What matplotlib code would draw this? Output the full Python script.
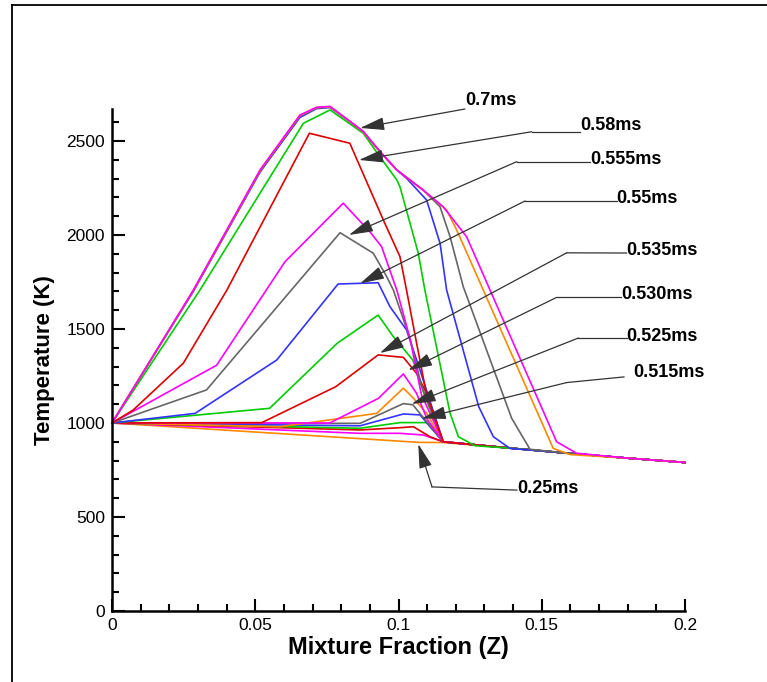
import matplotlib.pyplot as plt
from matplotlib.lines import Line2D
from matplotlib.ticker import MultipleLocator

plt.rcParams['font.family'] = ['Liberation Sans', 'DejaVu Sans']

# temperature vs mixture fraction, one trace per time, earliest first
z01 = [0, 0.107, 0.1156, 0.14, 0.16, 0.18, 0.2]
T01 = [1000, 897, 896, 865, 838, 813, 790]
z02 = [0, 0.0866, 0.1005, 0.1087, 0.1156, 0.14, 0.16, 0.18, 0.2]
T02 = [1000, 945, 945, 936, 900, 865, 838, 813, 790]
z03 = [0, 0.0866, 0.1005, 0.1052, 0.111, 0.1156, 0.14, 0.16, 0.18, 0.2]
T03 = [1000, 963, 975, 980, 927, 900, 865, 838, 813, 790]
z04 = [0, 0.0866, 0.1005, 0.1098, 0.1156, 0.14, 0.16, 0.18, 0.2]
T04 = [1000, 972, 1002, 1002, 900, 865, 838, 813, 790]
z05 = [0, 0.0866, 0.1017, 0.1075, 0.1156, 0.14, 0.16, 0.18, 0.2]
T05 = [1000, 985, 1048, 1043, 900, 865, 838, 813, 790]
z06 = [0, 0.0866, 0.1017, 0.105, 0.1156, 0.14, 0.16, 0.18, 0.2]
T06 = [1000, 998, 1103, 1097, 900, 865, 838, 813, 790]
z07 = [0, 0.0586, 0.0924, 0.1017, 0.1047, 0.1098, 0.1156, 0.14, 0.16, 0.18, 0.2]
T07 = [1000, 980, 1051, 1185, 1140, 1052, 900, 865, 838, 813, 790]
z08 = [0, 0.076, 0.093, 0.1017, 0.1063, 0.11, 0.1156, 0.14, 0.16, 0.18, 0.2]
T08 = [1000, 1000, 1131, 1261, 1158, 1020, 900, 865, 838, 813, 790]
z09 = [0, 0.0523, 0.0781, 0.0929, 0.1017, 0.1063, 0.1098, 0.1156, 0.14, 0.16, 0.18, 0.2]
T09 = [1000, 1002, 1193, 1362, 1349, 1264, 1158, 900, 865, 838, 813, 790]
z10 = [0, 0.055, 0.0786, 0.0929, 0.0982, 0.105, 0.109, 0.1156, 0.14, 0.16, 0.18, 0.2]
T10 = [1000, 1078, 1424, 1574, 1459, 1335, 1150, 900, 865, 838, 813, 790]
z11 = [0, 0.029, 0.0575, 0.0789, 0.0929, 0.097, 0.1028, 0.1075, 0.1156, 0.14, 0.16, 0.18, 0.2]
T11 = [1000, 1051, 1335, 1739, 1746, 1619, 1495, 1282, 900, 865, 838, 813, 790]
z12 = [0, 0.033, 0.0796, 0.0912, 0.0959, 0.0982, 0.104, 0.108, 0.1156, 0.14, 0.16, 0.18, 0.2]
T12 = [1000, 1176, 2012, 1903, 1778, 1707, 1450, 1200, 900, 865, 838, 813, 790]
z13 = [0, 0.0365, 0.0604, 0.0807, 0.09, 0.0941, 0.0994, 0.104, 0.108, 0.1156, 0.14, 0.16, 0.18, 0.2]
T13 = [1000, 1307, 1858, 2169, 2017, 1938, 1707, 1450, 1150, 900, 865, 838, 813, 790]
z14 = [0, 0.0074, 0.0249, 0.0401, 0.0689, 0.083, 0.0947, 0.1005, 0.1028, 0.106, 0.1098, 0.1156,
       0.14, 0.16, 0.18, 0.2]
T14 = [1000, 1069, 1318, 1707, 2541, 2488, 2080, 1885, 1707, 1450, 1150, 900,
       865, 838, 813, 790]
z15 = [0, 0.0307, 0.0668, 0.0761, 0.0877, 0.0935, 0.0994, 0.1005, 0.1069, 0.1092, 0.118, 0.1209,
       0.1267, 0.14, 0.16, 0.18, 0.2]
T15 = [1000, 1707, 2594, 2665, 2541, 2416, 2293, 2257, 1903, 1707, 1052, 927,
       879, 865, 838, 813, 790]
z16 = [0, 0.0284, 0.0517, 0.0656, 0.0714, 0.0761, 0.0831, 0.0877, 0.0935, 0.0994, 0.1029, 0.1098,
       0.1145, 0.1168, 0.128, 0.1331, 0.1389, 0.16, 0.18, 0.2]
T16 = [1000, 1700, 2335, 2625, 2672, 2678, 2603, 2549, 2443, 2346, 2300, 2186,
       1956, 1707, 1087, 927, 865, 838, 813, 790]
z17 = [0, 0.0284, 0.0517, 0.0656, 0.0714, 0.0761, 0.0831, 0.0877, 0.0935, 0.0994, 0.1086, 0.1145,
       0.118, 0.1226, 0.1395, 0.1459, 0.16, 0.18, 0.2]
T17 = [1000, 1703, 2340, 2632, 2675, 2680, 2603, 2549, 2443, 2346, 2239, 2150,
       1991, 1725, 1025, 860, 838, 813, 790]
z18 = [0, 0.0284, 0.0517, 0.0656, 0.0714, 0.0761, 0.0831, 0.0877, 0.0935, 0.0994, 0.1086, 0.1168,
       0.1203, 0.1296, 0.154, 0.1599, 0.18, 0.2]
T18 = [1000, 1705, 2344, 2636, 2678, 2682, 2603, 2549, 2443, 2346, 2239, 2133,
       2027, 1707, 865, 832, 813, 790]
z19 = [0, 0.0284, 0.0517, 0.0656, 0.0714, 0.0761, 0.0831, 0.0877, 0.0935, 0.0994, 0.1086, 0.1156,
       0.1238, 0.1552, 0.1622, 0.18, 0.2]
T19 = [1000, 1707, 2346, 2638, 2679, 2684, 2604, 2551, 2445, 2346, 2239, 2150,
       1990, 900, 839, 813, 790]

red, green, blue, magenta, gray, orange = '#dd0000', '#00cc00', '#3333ff', '#ff00ff', '#666666', '#ff8800'
traces = [(z01, T01, orange), (z02, T02, magenta), (z03, T03, red), (z04, T04, green),
          (z05, T05, blue), (z06, T06, gray), (z07, T07, orange), (z08, T08, magenta),
          (z09, T09, red), (z10, T10, green), (z11, T11, blue), (z12, T12, gray),
          (z13, T13, magenta), (z14, T14, red), (z15, T15, green), (z16, T16, blue),
          (z17, T17, gray), (z18, T18, orange), (z19, T19, magenta)]

# time labels: text, arrow tip, elbow, end of leader, text position (data coords)
labels = ['0.7ms', '0.58ms', '0.555ms', '0.55ms', '0.535ms', '0.530ms', '0.525ms', '0.515ms', '0.25ms']
tips = [(0.0866, 2569), (0.0862, 2399), (0.0827, 2000), (0.0866, 1742), (0.0935, 1372),
        (0.1034, 1281), (0.1046, 1101), (0.1081, 1024), (0.1069, 888)]
elbows = [(0.1232, 2670), (0.1465, 2549), (0.1413, 2390), (0.1442, 2181), (0.1587, 1905),
          (0.1552, 1668), (0.1628, 1452), (0.1587, 1215), (0.1117, 660)]
ends = [(0.1232, 2670), (0.1634, 2549), (0.1668, 2390), (0.1761, 2181), (0.1796, 1904),
        (0.1778, 1668), (0.1796, 1452), (0.1787, 1245), (0.1413, 643)]
text_pos = [(0.1232, 2713), (0.1634, 2580), (0.1668, 2399), (0.1761, 2194), (0.1796, 1920),
            (0.1778, 1681), (0.1796, 1458), (0.1820, 1266), (0.1413, 654)]

fig = plt.figure(figsize=(7.67, 6.82), dpi=100)
ax = fig.add_axes([112 / 767, 71 / 682, 573 / 767, 502 / 682])

for z, T, c in traces:
    ax.plot(z, T, color=c, lw=1.2, clip_on=False)

for lab, tip, elb, end, tp in zip(labels, tips, elbows, ends, text_pos):
    ax.annotate('', xy=tip, xytext=elb,
                arrowprops=dict(arrowstyle='-|>,head_length=1.5,head_width=0.4',
                                color='#333333', lw=0.9, shrinkA=0, shrinkB=0))
    ax.plot([elb[0], end[0]], [elb[1], end[1]], color='#333333', lw=0.9, clip_on=False)
    ax.text(tp[0], tp[1], lab, fontsize=13, fontweight='bold', ha='left', va='center')

ax.set_xlim(0, 0.2)
ax.set_ylim(0, 2670)
ax.xaxis.set_major_locator(MultipleLocator(0.05))
ax.xaxis.set_minor_locator(MultipleLocator(0.01))
ax.yaxis.set_major_locator(MultipleLocator(500))
ax.yaxis.set_minor_locator(MultipleLocator(100))
ax.set_xticks([0, 0.05, 0.1, 0.15, 0.2])
ax.set_xticklabels(['0', '0.05', '0.1', '0.15', '0.2'])
ax.tick_params(which='both', direction='in', width=1.5, labelsize=12.5)
ax.tick_params(which='major', length=9, pad=5)
ax.tick_params(which='minor', length=5)
for s in ['top', 'right']:
    ax.spines[s].set_visible(False)
for s in ['left', 'bottom']:
    ax.spines[s].set_linewidth(1.8)

ax.set_xlabel('Mixture Fraction (Z)', fontsize=17, fontweight='bold', labelpad=2)
ax.set_ylabel('Temperature (K)', fontsize=16, fontweight='bold', labelpad=8)

# frame around the plot page
fig.add_artist(Line2D([11.5 / 767, 11.5 / 767], [0, 1 - 5 / 682], color='black', lw=1.3))
fig.add_artist(Line2D([11.5 / 767, 1], [1 - 5 / 682, 1 - 5 / 682], color='black', lw=1.3))

fig.savefig('out.png', dpi=100)
